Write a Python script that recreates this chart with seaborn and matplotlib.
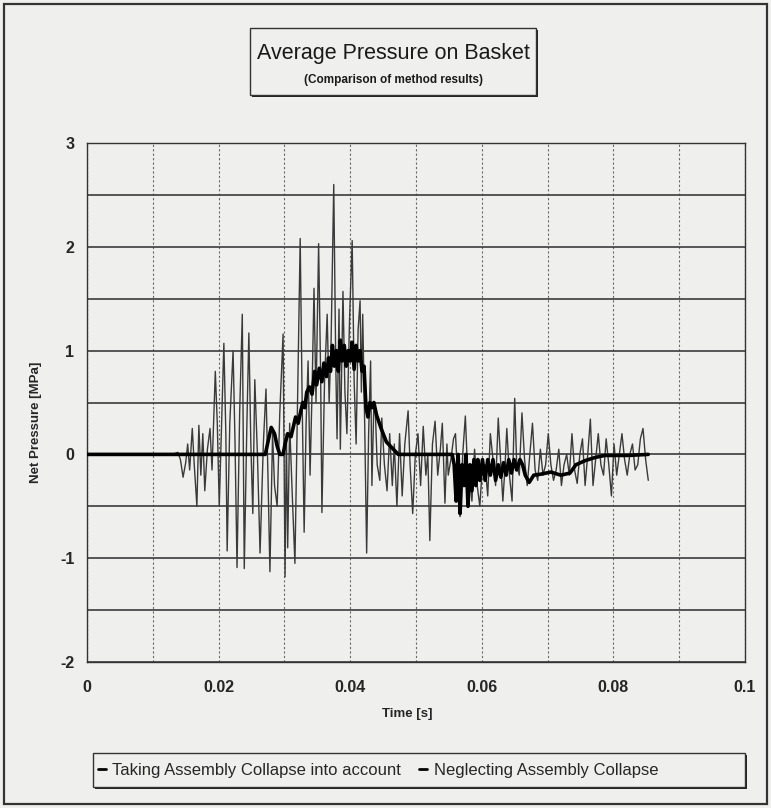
"""
Average pressure on the basket: net pressure vs time for the two
calculation methods (with / without assembly collapse).
"""

import matplotlib
matplotlib.use("Agg")
import matplotlib.pyplot as plt
import numpy as np
import pandas as pd
import seaborn as sns
from matplotlib.patches import Rectangle
from matplotlib.ticker import MultipleLocator

# ---------------------------------------------------------------------------
# Data
# ---------------------------------------------------------------------------

LABEL_COLLAPSE = "Taking Assembly Collapse into account"
LABEL_NEGLECT = "Neglecting Assembly Collapse"

# thin trace - neglecting assembly collapse
t_neglect = [
    0.0000, 0.0130, 0.0138, 0.0142, 0.0146, 0.0150, 0.0153, 0.0156, 0.0160, 0.0163,
    0.0167, 0.0170, 0.0173, 0.0176, 0.0179, 0.0183, 0.0187, 0.0190, 0.0195, 0.0198,
    0.0201, 0.0205, 0.0208, 0.0211, 0.0213, 0.0217, 0.0222, 0.0225, 0.0228, 0.0232,
    0.0236, 0.0239, 0.0243, 0.0246, 0.0249, 0.0252, 0.0255, 0.0259, 0.0263, 0.0268,
    0.0272, 0.0275, 0.0278, 0.0282, 0.0285, 0.0289, 0.0293, 0.0298, 0.0301, 0.0303,
    0.0305, 0.0308, 0.0312, 0.0316, 0.0320, 0.0324, 0.0327, 0.0330, 0.0333, 0.0336,
    0.0339, 0.0342, 0.0345, 0.0348, 0.0352, 0.0355, 0.0357, 0.0361, 0.0365, 0.0368,
    0.0371, 0.0375, 0.0378, 0.0380, 0.0383, 0.0385, 0.0389, 0.0392, 0.0395, 0.0399,
    0.0403, 0.0406, 0.0409, 0.0412, 0.0415, 0.0417, 0.0419, 0.0422, 0.0425, 0.0428,
    0.0431, 0.0433, 0.0436, 0.0438, 0.0441, 0.0445, 0.0448, 0.0452, 0.0456, 0.0460,
    0.0464, 0.0467, 0.0471, 0.0475, 0.0479, 0.0483, 0.0488, 0.0491, 0.0495, 0.0499,
    0.0503, 0.0507, 0.0511, 0.0515, 0.0518, 0.0521, 0.0525, 0.0529, 0.0533, 0.0537,
    0.0540, 0.0544, 0.0547, 0.0549, 0.0553, 0.0557, 0.0560, 0.0564, 0.0567, 0.0571,
    0.0575, 0.0578, 0.0582, 0.0585, 0.0589, 0.0593, 0.0597, 0.0601, 0.0605, 0.0609,
    0.0613, 0.0617, 0.0621, 0.0625, 0.0629, 0.0632, 0.0635, 0.0638, 0.0642, 0.0646,
    0.0650, 0.0653, 0.0657, 0.0661, 0.0665, 0.0669, 0.0673, 0.0677, 0.0681, 0.0685,
    0.0689, 0.0693, 0.0697, 0.0701, 0.0705, 0.0709, 0.0713, 0.0717, 0.0721, 0.0725,
    0.0729, 0.0733, 0.0737, 0.0741, 0.0745, 0.0749, 0.0753, 0.0757, 0.0761, 0.0765,
    0.0769, 0.0773, 0.0777, 0.0781, 0.0785, 0.0789, 0.0793, 0.0797, 0.0801, 0.0805,
    0.0809, 0.0813, 0.0817, 0.0821, 0.0825, 0.0829, 0.0833, 0.0837, 0.0841, 0.0845,
    0.0849, 0.0853,
]
p_neglect = [
    0.00, 0.00, 0.02, -0.05, -0.22, -0.08, 0.10, -0.15, 0.25, -0.10,
    -0.50, 0.28, -0.20, 0.20, -0.35, 0.05, 0.25, -0.15, 0.80, 0.30,
    -0.50, 0.40, 1.07, 0.20, -0.93, 0.30, 1.00, 0.10, -1.09, 0.40,
    1.35, -1.10, 0.30, 1.17, 0.10, -0.57, 0.72, 0.00, -0.95, 0.10,
    0.63, -0.20, -1.13, 0.20, -0.30, -0.50, 0.40, 1.16, -1.18, 0.20,
    -0.90, 0.30, -0.40, -1.05, 0.50, 2.08, 0.50, -0.75, 0.30, 0.90,
    -0.20, 0.60, 1.60, 0.50, 2.03, 0.80, -0.56, 0.70, 1.35, 0.50,
    1.10, 2.60, 0.90, 0.15, 1.40, 0.05, 1.57, 0.60, 0.20, 1.30,
    2.06, 0.70, 0.10, 1.20, 1.48, 0.60, 1.35, 0.30, -0.95, 0.20,
    0.90, -0.30, 0.50, 0.45, -0.10, -0.25, 0.35, -0.10, -0.35, 0.20,
    -0.30, 0.10, -0.50, 0.20, -0.40, 0.10, 0.42, -0.10, -0.57, 0.00,
    0.20, -0.30, 0.27, -0.20, 0.00, -0.83, 0.10, 0.32, -0.20, 0.05,
    0.30, -0.47, 0.10, -0.20, -0.05, 0.15, 0.20, -0.30, -0.60, 0.00,
    0.37, -0.10, -0.25, -0.45, 0.05, -0.30, -0.50, -0.10, -0.10, -0.40,
    0.20, -0.05, -0.30, 0.35, -0.10, -0.45, -0.15, 0.25, -0.20, -0.45,
    0.54, -0.10, -0.20, 0.40, -0.05, -0.30, 0.00, 0.30, -0.15, -0.25,
    0.05, -0.20, -0.10, 0.20, -0.10, -0.25, -0.15, 0.05, -0.30, -0.10,
    0.00, -0.20, 0.20, -0.15, -0.28, 0.00, 0.15, -0.30, 0.00, 0.34,
    -0.30, -0.05, 0.20, -0.10, -0.20, 0.15, -0.10, -0.40, 0.10, -0.20,
    0.00, 0.20, -0.05, -0.20, 0.00, 0.10, -0.15, -0.10, 0.15, 0.25,
    -0.05, -0.25,
]

# thick trace - taking assembly collapse into account
t_collapse = [
    0.0000, 0.0271, 0.0276, 0.0280, 0.0285, 0.0289, 0.0293, 0.0298, 0.0301, 0.0305,
    0.0310, 0.0313, 0.0317, 0.0321, 0.0325, 0.0328, 0.0331, 0.0334, 0.0338, 0.0342,
    0.0346, 0.0349, 0.0353, 0.0357, 0.0360, 0.0364, 0.0367, 0.0370, 0.0373, 0.0376,
    0.0379, 0.0382, 0.0385, 0.0388, 0.0391, 0.0394, 0.0397, 0.0400, 0.0403, 0.0406,
    0.0409, 0.0412, 0.0415, 0.0418, 0.0421, 0.0424, 0.0427, 0.0430, 0.0433, 0.0436,
    0.0440, 0.0447, 0.0455, 0.0473, 0.0555, 0.0558, 0.0561, 0.0564, 0.0567, 0.0570,
    0.0573, 0.0576, 0.0579, 0.0582, 0.0585, 0.0588, 0.0591, 0.0594, 0.0597, 0.0601,
    0.0605, 0.0609, 0.0613, 0.0617, 0.0621, 0.0625, 0.0629, 0.0633, 0.0637, 0.0641,
    0.0645, 0.0649, 0.0653, 0.0658, 0.0662, 0.0666, 0.0672, 0.0679, 0.0690, 0.0705,
    0.0720, 0.0734, 0.0743, 0.0757, 0.0772, 0.0787, 0.0822, 0.0853,
]
p_collapse = [
    0.00, 0.00, 0.15, 0.26, 0.20, 0.08, 0.00, 0.00, 0.10, 0.20,
    0.17, 0.25, 0.36, 0.30, 0.42, 0.50, 0.45, 0.60, 0.65, 0.58,
    0.80, 0.67, 0.83, 0.70, 0.88, 0.75, 0.93, 0.80, 1.05, 0.85,
    1.00, 0.80, 1.10, 0.90, 1.05, 0.85, 1.00, 0.90, 1.08, 0.82,
    1.05, 0.90, 1.00, 0.80, 0.85, 0.45, 0.36, 0.50, 0.45, 0.50,
    0.38, 0.25, 0.12, 0.00, 0.00, -0.10, -0.45, 0.00, -0.57, -0.10,
    -0.30, 0.00, -0.50, -0.10, -0.35, -0.05, -0.30, -0.05, -0.25, -0.05,
    -0.25, -0.05, -0.20, -0.05, -0.25, -0.10, -0.22, -0.08, -0.20, -0.05,
    -0.18, -0.05, -0.15, -0.05, -0.10, -0.20, -0.27, -0.20, -0.19, -0.17,
    -0.20, -0.18, -0.10, -0.06, -0.03, -0.01, -0.01, 0.00,
]

x_ticks = [0, 0.02, 0.04, 0.06, 0.08, 0.1]
x_tick_labels = ["0", "0.02", "0.04", "0.06", "0.08", "0.1"]
y_ticks = [-2, -1, 0, 1, 2, 3]

# ---------------------------------------------------------------------------
# Style
# ---------------------------------------------------------------------------

W, H = 771, 808
BG = "#efefed"

sns.set_style("white")
plt.rcParams["font.family"] = ["Liberation Sans", "DejaVu Sans"]
plt.rcParams["axes.unicode_minus"] = False


def fx(px):
    return px / W


def fy(py):
    return 1 - py / H


fig = plt.figure(figsize=(W / 100, H / 100), dpi=100, facecolor=BG)
ax = fig.add_axes([fx(87), fy(662), fx(745) - fx(87), fy(143) - fy(662)])
ax.set_facecolor(BG)

neglect = pd.DataFrame({"t": t_neglect, "p": p_neglect})
collapse = pd.DataFrame({"t": t_collapse, "p": p_collapse})

sns.lineplot(data=neglect, x="t", y="p", ax=ax, color="#3a3a3a", linewidth=1.0,
             estimator=None, sort=False, label=LABEL_NEGLECT, zorder=3)
sns.lineplot(data=collapse, x="t", y="p", ax=ax, color="black", linewidth=2.6,
             estimator=None, sort=False, label=LABEL_COLLAPSE, zorder=4)
if ax.get_legend() is not None:
    ax.get_legend().remove()

# axes, ticks and grid
ax.set_xlim(0, 0.1)
ax.set_ylim(-2, 3)
ax.set_xticks(x_ticks)
ax.set_xticklabels(x_tick_labels)
ax.set_yticks(y_ticks)
ax.set_yticklabels([str(v) for v in y_ticks])
ax.xaxis.set_minor_locator(MultipleLocator(0.01))
ax.yaxis.set_minor_locator(MultipleLocator(0.5))
ax.tick_params(which="both", length=0)
ax.tick_params(axis="x", pad=13, labelsize=11.5)
ax.tick_params(axis="y", pad=9, labelsize=11.5)
for lab in ax.get_xticklabels() + ax.get_yticklabels():
    lab.set_fontweight("bold")

ax.grid(axis="y", which="both", color="#3c3c3c", linewidth=1.2, linestyle="-", zorder=1)
ax.grid(axis="x", which="both", color="#6a6a6a", linewidth=0.8, linestyle=(0, (2, 2)), zorder=1)
ax.set_axisbelow(True)
for spine in ax.spines.values():
    spine.set_visible(True)
    spine.set_color("#333333")
    spine.set_linewidth(1.0)

ax.set_xlabel("Time [s]", fontsize=9.5, fontweight="bold")
ax.set_ylabel("Net Pressure [MPa]", fontsize=9.5, fontweight="bold")
ax.xaxis.set_label_coords((407 - 87) / 658, (662 - 708) / 519)
ax.yaxis.set_label_coords((42 - 87) / 658, (662 - 422) / 519)

# outer chart border
fig.add_artist(Rectangle((fx(4), fy(804)), fx(767) - fx(4), fy(4) - fy(804),
                         transform=fig.transFigure, fill=False,
                         edgecolor="#333333", linewidth=1.6))

# title box with shadow
tb_l, tb_r, tb_t, tb_b = 250, 536, 28, 95
fig.add_artist(Rectangle((fx(tb_l + 2), fy(tb_b + 2)), fx(tb_r) - fx(tb_l), fy(tb_t) - fy(tb_b),
                         transform=fig.transFigure, facecolor="#222222", edgecolor="none"))
fig.add_artist(Rectangle((fx(tb_l), fy(tb_b)), fx(tb_r) - fx(tb_l), fy(tb_t) - fy(tb_b),
                         transform=fig.transFigure, facecolor=BG, edgecolor="#333333",
                         linewidth=1.0))
fig.text(fx((tb_l + tb_r) / 2), fy(54), "Average Pressure on Basket",
         ha="center", va="center", fontsize=15.5, color="#1a1a1a")
fig.text(fx((tb_l + tb_r) / 2), fy(80), "(Comparison of method results)",
         ha="center", va="center", fontsize=8.5, fontweight="bold", color="#1a1a1a")

# legend box with shadow
lb_l, lb_r, lb_t, lb_b = 93, 745, 753, 787
fig.add_artist(Rectangle((fx(lb_l + 2), fy(lb_b + 2)), fx(lb_r) - fx(lb_l), fy(lb_t) - fy(lb_b),
                         transform=fig.transFigure, facecolor="#222222", edgecolor="none"))
fig.add_artist(Rectangle((fx(lb_l), fy(lb_b)), fx(lb_r) - fx(lb_l), fy(lb_t) - fy(lb_b),
                         transform=fig.transFigure, facecolor=BG, edgecolor="#333333",
                         linewidth=1.0))

handles, labels = ax.get_legend_handles_labels()
order = [labels.index(LABEL_COLLAPSE), labels.index(LABEL_NEGLECT)]
leg = fig.legend([handles[i] for i in order], [labels[i] for i in order],
                 loc="center left", bbox_to_anchor=(fx(98), fy(770)), ncol=2,
                 frameon=False, handlelength=0.45, handletextpad=0.4,
                 columnspacing=1.1, fontsize=12, borderpad=0, borderaxespad=0)
for h in leg.legend_handles:
    h.set_color("black")
    h.set_linewidth(2.0)

fig.savefig("out.png", dpi=100, facecolor=BG)
